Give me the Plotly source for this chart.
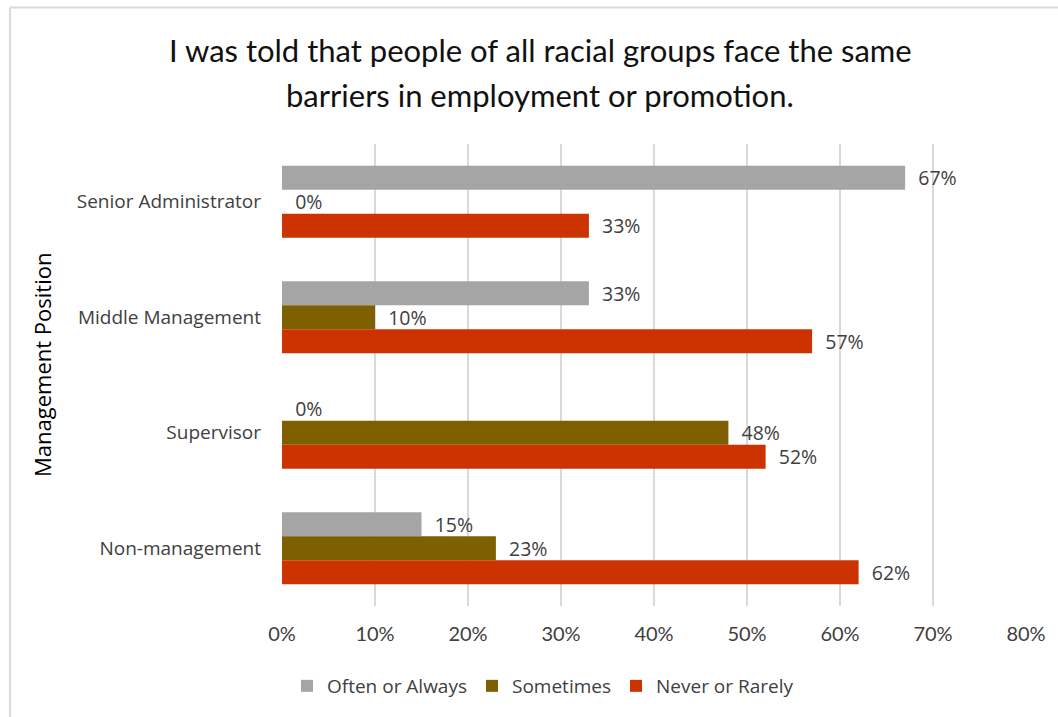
import plotly.graph_objects as go

# Survey responses by management position (percent of respondents)
positions = ["Senior Administrator", "Middle Management", "Supervisor", "Non-management"]
often_or_always = [67, 33, 0, 15]
sometimes = [0, 10, 48, 23]
never_or_rarely = [33, 57, 52, 62]
tick_values = [0, 10, 20, 30, 40, 50, 60, 70, 80]
tick_labels = ["0%", "10%", "20%", "30%", "40%", "50%", "60%", "70%", "80%"]
title_lines = [
    "I was told that people of all racial groups face the same",
    "barriers in employment or promotion.",
]

series = [
    ("Often or Always", often_or_always, "#A5A5A5"),
    ("Sometimes", sometimes, "#7F6000"),
    ("Never or Rarely", never_or_rarely, "#CC3300"),
]

LABEL_FONT = "'Open Sans', sans-serif"
NARROW_FONT = "Lato, sans-serif"

fig = go.Figure()
for name, vals, color in series:
    fig.add_trace(go.Bar(
        name=name,
        y=positions,
        x=vals,
        orientation="h",
        marker=dict(color=color, line=dict(width=0)),
        text=[f"\u00a0\u00a0{v}%" for v in vals],
        textposition="outside",
        constraintext="none",
        textfont=dict(family=LABEL_FONT, size=19.5, color="#404040"),
        cliponaxis=False,
    ))

W, H = 1058, 717
L, R, T, B = 282, 32, 144, 111
pw, ph = W - L - R, H - T - B


def px_x(p):
    return (p - L) / pw


def px_y(p):
    return (H - B - p) / ph


# Two-line heading placed line by line for tighter control of spacing
title_annotations = [
    dict(text=line, xref="paper", yref="paper",
         x=px_x(540), y=px_y(yc), xanchor="center", yanchor="middle",
         showarrow=False,
         font=dict(family=NARROW_FONT, size=31, color="#111111"))
    for line, yc in zip(title_lines, [50, 95])
]

fig.update_layout(
    width=W, height=H,
    margin=dict(l=L, r=R, t=T, b=B, autoexpand=False),
    paper_bgcolor="white",
    plot_bgcolor="white",
    barmode="group",
    bargap=0.375,
    bargroupgap=0,
    font=dict(family=LABEL_FONT, color="#404040"),
    xaxis=dict(
        range=[0, 80],
        tickvals=tick_values,
        ticktext=tick_labels,
        showgrid=True, gridcolor="#D9D9D9", gridwidth=2,
        zeroline=False, showline=False,
        ticks="", ticklabelstandoff=14,
        tickfont=dict(family=NARROW_FONT, size=20, color="#404040"),
    ),
    yaxis=dict(
        autorange="reversed",
        showgrid=False, zeroline=False, showline=False,
        ticks="", ticklabelstandoff=20,
        tickfont=dict(family=LABEL_FONT, size=19, color="#404040"),
    ),
    legend=dict(
        orientation="h",
        x=px_x(543), xanchor="center",
        y=px_y(686), yanchor="middle",
        font=dict(family=LABEL_FONT, size=19, color="#404040"),
        itemwidth=30,
        traceorder="normal",
    ),
    annotations=title_annotations + [
        dict(text="Management Position", textangle=-90,
             xref="paper", yref="paper", x=px_x(42), y=px_y(365),
             xanchor="center", yanchor="middle", showarrow=False,
             font=dict(family=LABEL_FONT, size=22, color="#000000")),
    ],
    shapes=[
        dict(type="line", xref="paper", yref="paper",
             x0=px_x(10), x1=px_x(W + 10), y0=px_y(7.5), y1=px_y(7.5),
             line=dict(color="#D9D9D9", width=2)),
        dict(type="line", xref="paper", yref="paper",
             x0=px_x(10), x1=px_x(10), y0=px_y(7.5), y1=px_y(H + 10),
             line=dict(color="#D9D9D9", width=2)),
    ],
)

fig.write_html("out.html")
